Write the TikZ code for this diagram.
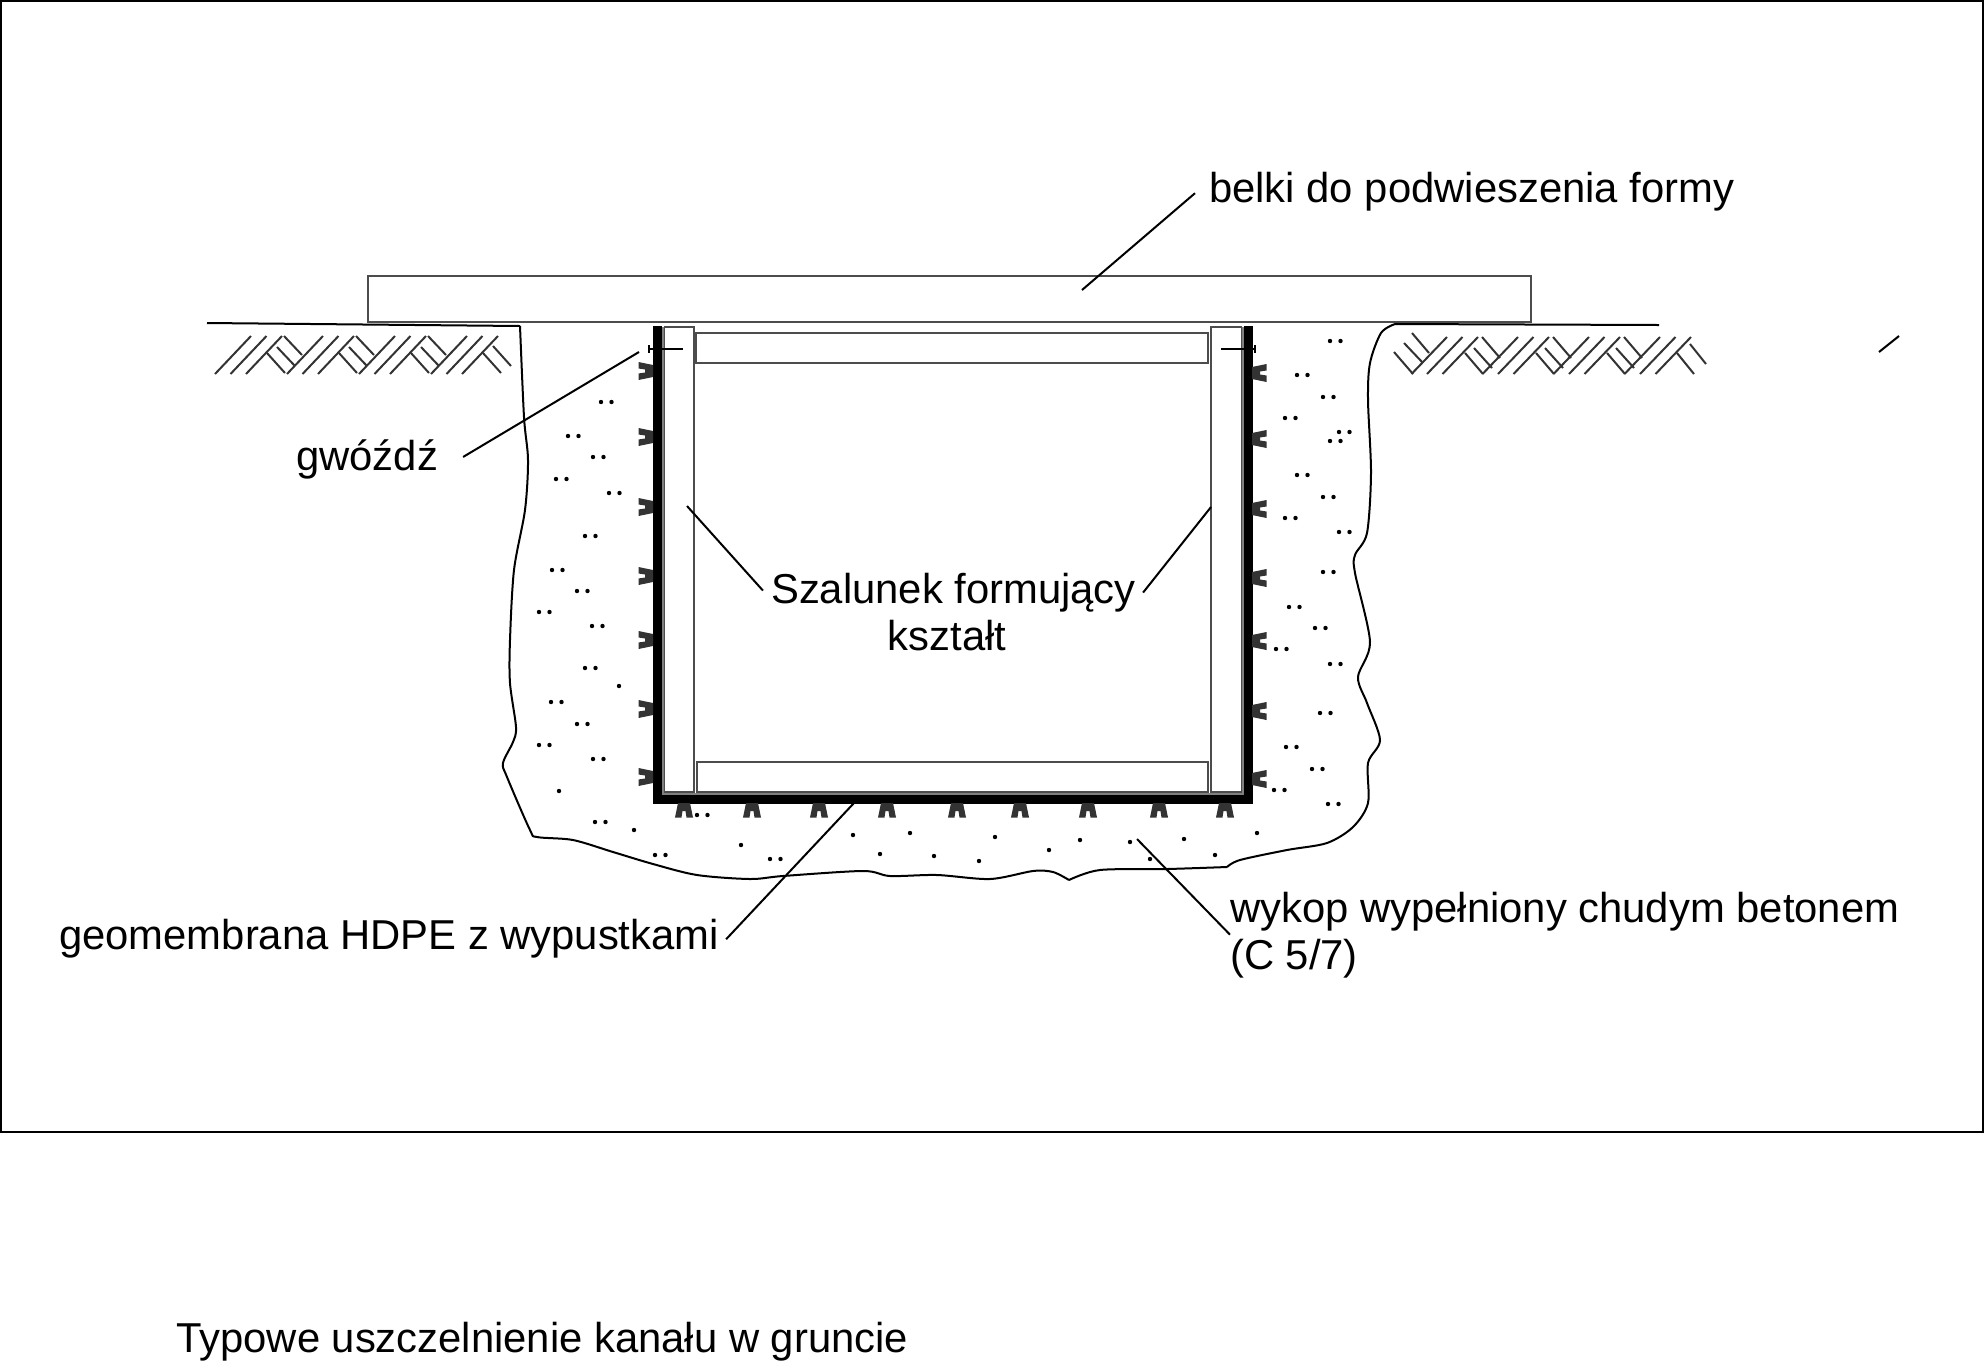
\documentclass[tikz,border=0pt]{standalone}
\usepackage{fontspec}
\setmainfont{Liberation Sans}
\begin{document}
\begin{tikzpicture}[x=1pt,y=-1pt]
\tikzstyle{txt} = [inner sep=0pt,anchor=base west,font=\fontsize{41.8}{47}\selectfont]
\tikzstyle{lead} = [line width=2pt,black]
\tikzstyle{soil} = [line width=2pt,black]
\tikzstyle{hatch} = [line width=2pt,black!80]
\tikzstyle{box} = [line width=1.3pt,draw=black!70,fill=white]
\tikzset{spike/.pic={\fill[black!80] (-6,0) -- (-9,14.5) -- (-2.5,14.5) -- (-1.5,8) -- (1.5,8) -- (2.5,14.5) -- (9,14.5) -- (6,0) -- cycle;}}
\useasboundingbox (0,0) rectangle (1984,1361);
\draw [line width=2pt] (1,1) rectangle (1983,1132);
\draw [box] (368,276) rectangle (1531,322);
\draw [soil] (207,323) -- (520,326);
\draw [soil] (1395,324) -- (1659,325);
\draw [soil] plot [smooth,tension=.5] coordinates {(520,326) (524,417) (528,460) (525,510) (514,570) (510,640) (510,683) (516,727) (513,742) (503,763) (507,777) (530,830) (537,837) (573,840) (613,852) (653,864) (697,875) (750,879) (783,876) (863,871) (890,876) (937,875) (990,879) (1033,871) (1053,872) (1069,880)};
\draw [soil] plot [smooth,tension=.5] coordinates {(1069,880) (1100,870) (1167,869) (1227,867)};
\draw [soil] plot [smooth,tension=.5] coordinates {(1227,867) (1240,860) (1287,850) (1327,843) (1353,827) (1368,803) (1368,763) (1380,740) (1367,703) (1358,677) (1370,642) (1355,573) (1355,555) (1367,533) (1371,473) (1368,400) (1370,363) (1381,333) (1395,324)};
\foreach \k in {0,1,2,3} {
  \foreach \s in {0,15.5,31} {
    \draw [hatch] (215+72*\k+\s,374) -- (251+72*\k+\s,336);
    \draw [hatch] (1411.5+71*\k+\s,374) -- (1447+71*\k+\s,337);
  }
}
\foreach \k in {0,1,2} {
  \draw [hatch] (267+72*\k,353) -- (285+72*\k,373);
  \draw [hatch] (277+72*\k,347) -- (295+72*\k,366);
  \draw [hatch] (284+72*\k,336) -- (302+72*\k,355);
  \draw [hatch] (1465+71*\k,353) -- (1483+71*\k,374);
  \draw [hatch] (1474+71*\k,348) -- (1492+71*\k,368);
  \draw [hatch] (1482+71*\k,337) -- (1500+71*\k,358);
}
\draw [hatch] (483,353) -- (501,373);
\draw [hatch] (493,346) -- (511,366);
\draw [hatch] (1394,352) -- (1413,374);
\draw [hatch] (1404,343) -- (1423,363);
\draw [hatch] (1412,333) -- (1429,353);
\draw [hatch] (1677,353) -- (1694,374);
\draw [hatch] (1690,344) -- (1706,364);
\draw [line width=1.3pt,black!50] (663,327) -- (663,794) -- (1243,794) -- (1243,327);
\draw [box] (664.5,327) rectangle (694,792);
\draw [box] (1211,327) rectangle (1241.5,792);
\draw [box] (696,333) rectangle (1208,363);
\draw [box] (697,762) rectangle (1208,792);
\draw [line width=9pt,black] (657,326) -- (657,799) -- (1248,799) -- (1248,326);
\foreach \y in {371,437,507,576,640,709,777} \pic [rotate=-90] at (653,\y) {spike};
\foreach \y in {373,439,509,578,641,711,779} \pic [rotate=90] at (1252,\y) {spike};
\foreach \x in {684,752,819,887,957,1020,1088,1159,1225} \pic at (\x,803) {spike};
\draw [line width=2pt] (649,349) -- (683,349);
\draw [line width=2pt] (649,345) -- (649,353);
\draw [line width=2pt] (1221,349) -- (1255,349);
\draw [line width=2pt] (1255,345) -- (1255,353);
\foreach \x/\y in {601/402,568/436,593/457,556/479,609/493,585/536,552/570,577/591,539/612,592/626,585/668,551/702,577/724,539/745,593/759,595/822,655/855,697/815,770/859,1276/649,1330/664,1320/713,1286/747,1312/769,1274/790,1328/804,1330/341,1297/375,1323/397,1285/418,1339/432,1330/441,1297/475,1323/497,1285/518,1339/532,1323/572,1289/607,1315/628}
  \fill (\x,\y) circle (2.2pt) (\x+10.5,\y) circle (2.2pt);
\foreach \x/\y in {619/686,559/791,634/830,741/845,853/835,880/854,910/833,934/856,979/861,995/837,1049/850,1080/840,1130/842,1150/859,1184/839,1215/855,1257/833}
  \fill (\x,\y) circle (2.2pt);
\node [txt] (bel) at (1209,202) {belki do podwieszenia formy};
\node [txt] (gw) at (296,470) {gwóźdź};
\node [txt,anchor=base,align=center] (sz) at (953.5,650) {Szalunek formujący\\kształt\hspace*{13pt}};
\node [txt] (geo) at (59,949) {geomembrana HDPE z wypustkami};
\node [txt,align=left] (wyk) at (1230,969) {wykop wypełniony chudym betonem\\(C 5/7)};
\node [txt] (typ) at (176,1352) {Typowe uszczelnienie kanału w gruncie};
\coordinate (belend) at (1082,290);
\coordinate (gwend) at (639,352);
\coordinate (szl) at (687,506);
\coordinate (szr) at (1211,507);
\coordinate (geoend) at (854,803);
\coordinate (wykend) at (1137,839);
\coordinate (m1) at (1879,352);
\coordinate (m2) at (1899,336);
\draw [lead] ([xshift=-14pt,yshift=-2pt]bel.west) -- (belend);
\draw [lead] ([xshift=25pt,yshift=2pt]gw.east) -- (gwend);
\draw [lead] ([xshift=-8pt,yshift=21pt]sz.west) -- (szl);
\draw [lead] ([xshift=7pt,yshift=19pt]sz.east) -- (szr);
\draw [lead] ([xshift=7pt,yshift=-1pt]geo.east) -- (geoend);
\draw [lead] (wyk.west) -- (wykend);
\draw [lead] (m1) -- (m2);
\end{tikzpicture}
\end{document}
